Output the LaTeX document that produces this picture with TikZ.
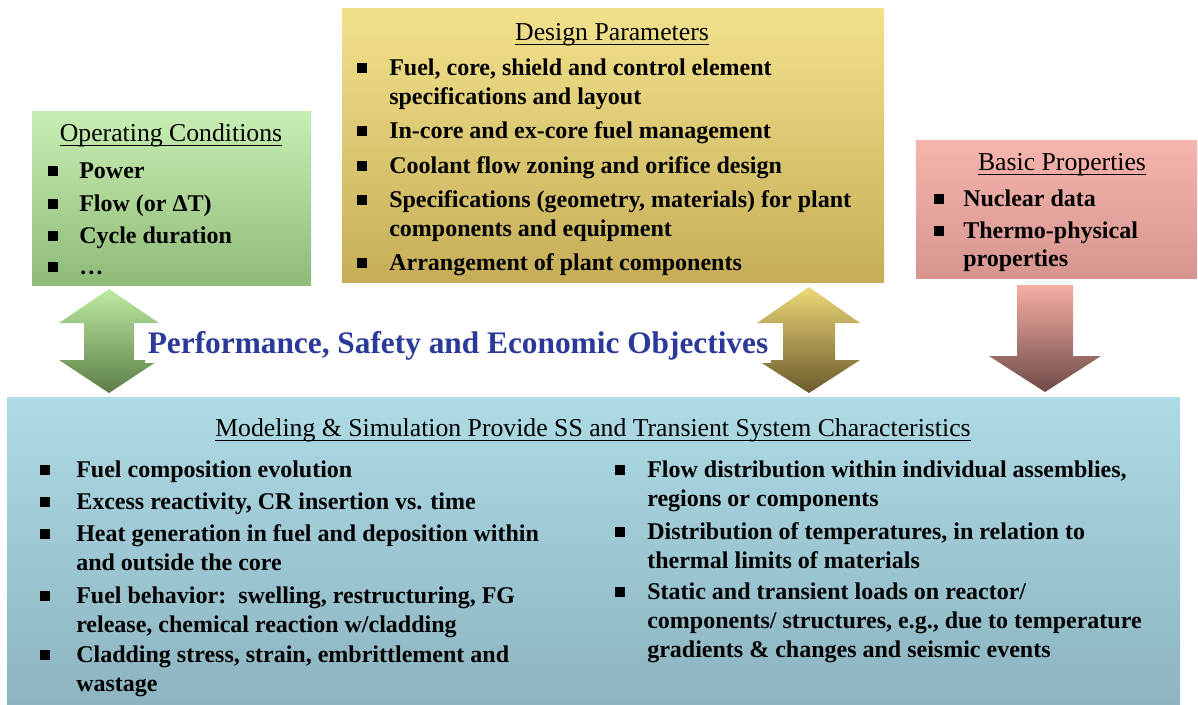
\documentclass[tikz,border=0pt]{standalone}
\usepackage{fontspec}
\setmainfont{Liberation Serif}
\usetikzlibrary{fit}
\definecolor{ocTop}{HTML}{C8EFB3}
\definecolor{ocBot}{HTML}{8FBA78}
\definecolor{dpTop}{HTML}{F2E18C}
\definecolor{dpBot}{HTML}{C6AE58}
\definecolor{bpTop}{HTML}{F5B4AC}
\definecolor{bpBot}{HTML}{D6958F}
\definecolor{msTop}{HTML}{AEDBE5}
\definecolor{msBot}{HTML}{8CB4C1}
\definecolor{gaTop}{HTML}{BDEBA2}
\definecolor{gaBot}{HTML}{5C7E46}
\definecolor{yaTop}{HTML}{EDD877}
\definecolor{yaBot}{HTML}{6A5A2C}
\definecolor{raTop}{HTML}{F6AFA4}
\definecolor{raBot}{HTML}{6E4A48}
\definecolor{objBlue}{HTML}{2B3A99}
\begin{document}
\begin{tikzpicture}[x=0.75pt,y=-0.75pt,
  panel/.style={inner sep=0pt, draw=none},
  ttl/.style={font=\fontsize{19.3}{23}\selectfont, inner sep=0pt, anchor=mid, yshift=-3pt},
  itm/.style={font=\bfseries\fontsize{18}{22}\selectfont, inner sep=0pt, anchor=mid west, yshift=-3pt},
  bul/.style={fill=black, inner sep=0pt, minimum size=7.5pt},
  uline/.style={line width=0.8pt, black},
  obj/.style={font=\bfseries\fontsize{23.5}{27}\selectfont, text=objBlue, inner sep=2pt, fill=white}]
\useasboundingbox (0,0) rectangle (1198,704);

% ---------- panels ----------
\node[panel, top color=ocTop, bottom color=ocBot, fit={(32,111) (311,285)}] (oc) {};
\node[panel, top color=dpTop, bottom color=dpBot, fit={(342,8) (884,282)}] (dp) {};
\node[panel, top color=bpTop, bottom color=bpBot, fit={(916,140) (1197,278)}] (bp) {};
\node[panel, top color=msTop, bottom color=msBot, fit={(7,397) (1180,704)}] (ms) {};

% ---------- block arrows ----------
\shade[top color=gaTop, bottom color=gaBot]
  (109,289) -- (159,323) -- (134,323) -- (134,360) -- (159,360) -- (109,393)
  -- (59,360) -- (84,360) -- (84,323) -- (59,323) -- cycle;
\shade[top color=yaTop, bottom color=yaBot]
  (809,287) -- (860,323) -- (835,323) -- (835,360) -- (860,360) -- (809,393)
  -- (757,360) -- (783,360) -- (783,323) -- (757,323) -- cycle;
\shade[top color=raTop, bottom color=raBot]
  (1017,285) -- (1073,285) -- (1073,356) -- (1101,356) -- (1045,392)
  -- (989,356) -- (1017,356) -- cycle;

\node[obj] (objectives) at (458,346) {Performance, Safety and Economic Objectives};

% ---------- Operating Conditions ----------
\node[ttl] (octitle) at (171,134) {Operating Conditions};
\draw[uline] ([yshift=-3pt]octitle.base west) -- ([yshift=-3pt]octitle.base east);
\node[bul] (ocb1) at (53,171) {};
\node[itm] (oc1) at (79,171) {Power};
\node[bul] (ocb2) at (53,204) {};
\node[itm] (oc2) at (79,204) {Flow (or ΔT)};
\node[bul] (ocb3) at (53,236) {};
\node[itm] (oc3) at (79,236) {Cycle duration};
\node[bul] (ocb4) at (53,267) {};
\node[itm] (oc4) at (79,267) {…};

% ---------- Design Parameters ----------
\node[ttl] (dptitle) at (612,33) {Design Parameters};
\draw[uline] ([yshift=-3pt]dptitle.base west) -- ([yshift=-3pt]dptitle.base east);
\node[bul] (dpb1) at (362,68) {};
\node[itm] (dp1a) at (389,68) {Fuel, core, shield and control element};
\node[itm] (dp1b) at (389,97) {specifications and layout};
\node[bul] (dpb2) at (362,131) {};
\node[itm] (dp2) at (389,131) {In-core and ex-core fuel management};
\node[bul] (dpb3) at (362,166) {};
\node[itm] (dp3) at (389,166) {Coolant flow zoning and orifice design};
\node[bul] (dpb4) at (362,200) {};
\node[itm] (dp4a) at (389,200) {Specifications (geometry, materials) for plant};
\node[itm] (dp4b) at (389,229) {components and equipment};
\node[bul] (dpb5) at (362,263) {};
\node[itm] (dp5) at (389,263) {Arrangement of plant components};

% ---------- Basic Properties ----------
\node[ttl] (bptitle) at (1062,163) {Basic Properties};
\draw[uline] ([yshift=-3pt]bptitle.base west) -- ([yshift=-3pt]bptitle.base east);
\node[bul] (bpb1) at (939,199) {};
\node[itm] (bp1) at (963,199) {Nuclear data};
\node[bul] (bpb2) at (939,231) {};
\node[itm] (bp2a) at (963,231) {Thermo-physical};
\node[itm] (bp2b) at (963,259) {properties};

% ---------- Modeling & Simulation ----------
\node[ttl] (mstitle) at (593,429) {Modeling \& Simulation Provide SS and Transient System Characteristics};
\draw[uline] ([yshift=-3pt]mstitle.base west) -- ([yshift=-3pt]mstitle.base east);
% left column
\node[bul] (msl1) at (45,470) {};
\node[itm] (l1) at (76,470) {Fuel composition evolution};
\node[bul] (msl2) at (45,502) {};
\node[itm] (l2) at (76,502) {Excess reactivity, CR insertion vs. time};
\node[bul] (msl3) at (45,534) {};
\node[itm] (l3a) at (76,534) {Heat generation in fuel and deposition within};
\node[itm] (l3b) at (76,563) {and outside the core};
\node[bul] (msl4) at (45,596) {};
\node[itm] (l4a) at (76,596) {Fuel behavior:\, swelling, restructuring, FG};
\node[itm] (l4b) at (76,625) {release, chemical reaction w/cladding};
\node[bul] (msl5) at (45,655) {};
\node[itm] (l5a) at (76,655) {Cladding stress, strain, embrittlement and};
\node[itm] (l5b) at (76,684) {wastage};
% right column
\node[bul] (msr1) at (620,470) {};
\node[itm] (r1a) at (647,470) {Flow distribution within individual assemblies,};
\node[itm] (r1b) at (647,499) {regions or components};
\node[bul] (msr2) at (620,532) {};
\node[itm] (r2a) at (647,532) {Distribution of temperatures, in relation to};
\node[itm] (r2b) at (647,561) {thermal limits of materials};
\node[bul] (msr3) at (620,592) {};
\node[itm] (r3a) at (647,592) {Static and transient loads on reactor/};
\node[itm] (r3b) at (647,621) {components/ structures, e.g., due to temperature};
\node[itm] (r3c) at (647,650) {gradients \& changes and seismic events};
\end{tikzpicture}
\end{document}
